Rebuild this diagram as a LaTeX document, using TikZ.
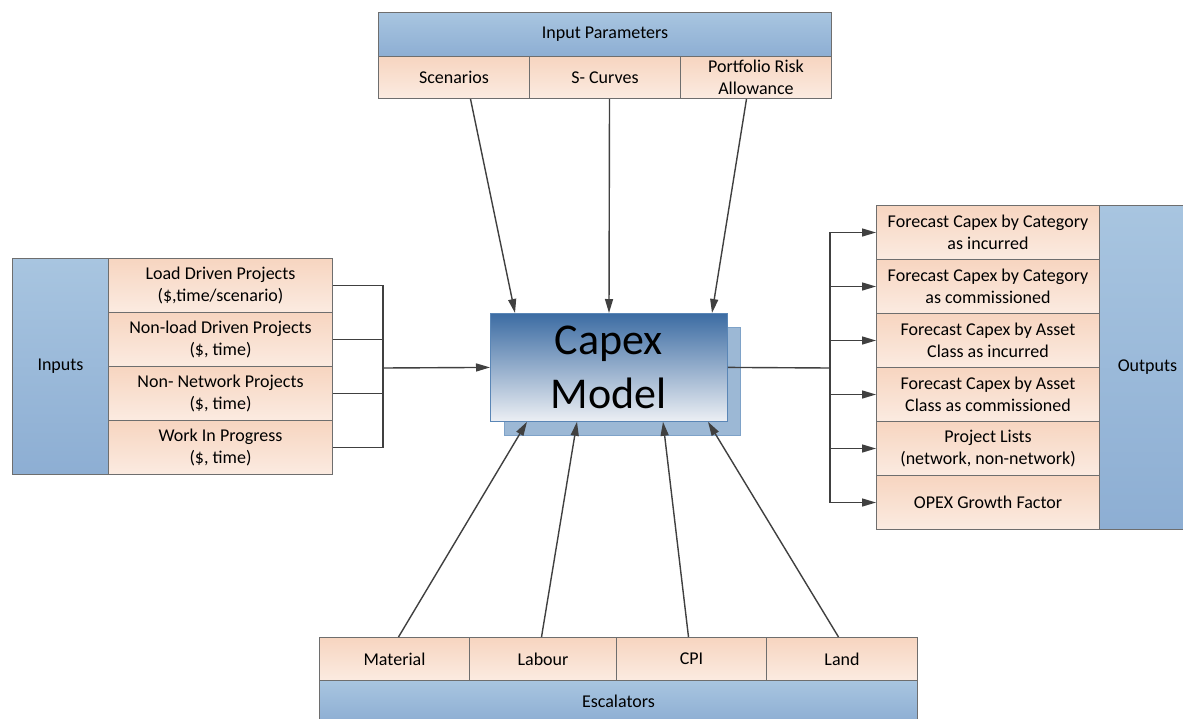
\documentclass[tikz,border=0pt]{standalone}
\usepackage{fontspec}
\setmainfont{Carlito}
\usetikzlibrary{arrows.meta,calc}
\definecolor{bluetop}{HTML}{A8C5E0}
\definecolor{bluebot}{HTML}{8DAED3}
\definecolor{orntop}{HTML}{F7D5C0}
\definecolor{ornbot}{HTML}{FBEBE1}
\definecolor{bordc}{HTML}{6E6E6E}
\definecolor{connc}{HTML}{404040}
\definecolor{captop}{HTML}{3C6CA3}
\definecolor{capbot}{HTML}{ECEFF4}
\definecolor{capbord}{HTML}{5A86B6}
\definecolor{shadfill}{HTML}{9CB8D5}
\definecolor{shadbord}{HTML}{7EA2C8}
\newcommand\fs{\fontsize{18}{21.7}\selectfont}
\tikzset{
  box/.style={draw=bordc, line width=1pt, inner sep=0pt, align=center, font=\fs, anchor=north west},
  hdr/.style={box, top color=bluetop, bottom color=bluebot},
  sub/.style={box, top color=orntop, bottom color=ornbot},
  conn/.style={draw=connc, line width=1.4pt},
  arr/.style={conn, -{Triangle[length=14pt,width=8pt]}},
}
\begin{document}
\begin{tikzpicture}[x=1pt,y=-1pt]
\clip (0,0) rectangle (1183,718);
\fill[white] (0,0) rectangle (1183,718);

% Input parameters
\node[hdr, minimum width=453pt, minimum height=44pt] (ip) at (378,12) {Input Parameters};
\node[sub, minimum width=151pt, minimum height=42pt] (scen) at (378,56) {Scenarios};
\node[sub, minimum width=151pt, minimum height=42pt] (scur) at (529,56) {S- Curves};
\node[sub, minimum width=151pt, minimum height=42pt] (prisk) at (680,56) {Portfolio Risk\\Allowance};

% Inputs
\node[hdr, minimum width=96pt, minimum height=216pt] (inputs) at (12,258) {Inputs};
\node[sub, minimum width=224pt, minimum height=54pt] (load) at (108,258) {Load Driven Projects\\(\$,time/scenario)};
\node[sub, minimum width=224pt, minimum height=54pt] (nonload) at (108,312) {Non-load Driven Projects\\(\$, time)};
\node[sub, minimum width=224pt, minimum height=54pt] (nonnet) at (108,366) {Non- Network Projects\\(\$, time)};
\node[sub, minimum width=224pt, minimum height=54pt] (wip) at (108,420) {Work In Progress\\(\$, time)};

% Capex model
\node[draw=shadbord, fill=shadfill, line width=0.8pt, anchor=north west, minimum width=236pt, minimum height=108pt, inner sep=0pt] (shadow) at (504,327) {};
\node[draw=capbord, line width=0.8pt, top color=captop, bottom color=capbot, anchor=north west, minimum width=237pt, minimum height=108pt, inner sep=0pt, align=center, font=\fontsize{44}{54}\selectfont] (capex) at (490,313) {Capex\\Model};

% Outputs
\node[hdr, minimum width=96pt, minimum height=324pt] (outputs) at (1099,205) {Outputs};
\node[sub, minimum width=223pt, minimum height=54pt] (o1) at (876,205) {Forecast Capex by Category\\as incurred};
\node[sub, minimum width=223pt, minimum height=54pt] (o2) at (876,259) {Forecast Capex by Category\\as commissioned};
\node[sub, minimum width=223pt, minimum height=54pt] (o3) at (876,313) {Forecast Capex by Asset\\Class as incurred};
\node[sub, minimum width=223pt, minimum height=54pt] (o4) at (876,367) {Forecast Capex by Asset\\Class as commissioned};
\node[sub, minimum width=223pt, minimum height=54pt] (o5) at (876,421) {Project Lists\\(network, non-network)};
\node[sub, minimum width=223pt, minimum height=54pt] (o6) at (876,475) {OPEX Growth Factor};

% Escalators
\node[sub, minimum width=150pt, minimum height=43pt] (mat) at (319,637) {Material};
\node[sub, minimum width=147pt, minimum height=43pt] (lab) at (469,637) {Labour};
\node[sub, minimum width=150pt, minimum height=43pt] (cpi) at (616,637) {CPI};
\node[sub, minimum width=151pt, minimum height=43pt] (land) at (766,637) {Land};
\node[hdr, minimum width=598pt, minimum height=42pt] (esc) at (319,680) {Escalators};

% Left bus
\coordinate (lbus) at (383,368);
\draw[conn] (load.east) -| (lbus);
\draw[conn] (nonload.east) -| (lbus);
\draw[conn] (nonnet.east) -| (lbus);
\draw[conn] (wip.east) -| (lbus);
\draw[arr] (lbus) -- (capex.west);

% Right bus
\coordinate (rbus) at (830,368);
\draw[conn] (capex.east) -- (rbus);
\foreach \o in {o1,o2,o3,o4,o5,o6}{
  \draw[arr] (rbus) |- (\o.west);
}

% Top arrows
\draw[arr] ($(scen.south)+(16.5,0)$) -- ($(capex.north west)+(25,0)$);
\draw[arr] ($(scur.south)+(4.5,0)$) -- ($(capex.north west)+(119,0)$);
\draw[arr] ($(prisk.south)+(-9.5,0)$) -- ($(capex.north west)+(222,0)$);

% Bottom arrows
\draw[arr] ($(mat.north)+(4,0)$) -- ($(capex.south west)+(37,0)$);
\draw[arr] ($(lab.north)+(-1.5,0)$) -- ($(capex.south west)+(87,0)$);
\draw[arr] ($(cpi.north)+(-3,0)$) -- ($(capex.south west)+(173,0)$);
\draw[arr] ($(land.north)+(-3.5,0)$) -- ($(capex.south west)+(218,0)$);
\end{tikzpicture}
\end{document}
